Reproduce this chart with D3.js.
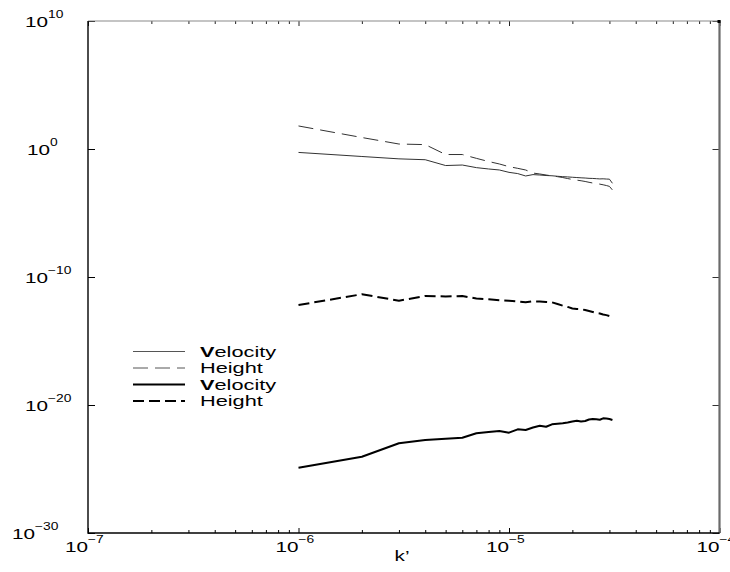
<!DOCTYPE html>
<html>
<head>
<meta charset="utf-8">
<script src="https://cdn.jsdelivr.net/npm/d3@7/dist/d3.min.js"></script>
<style>
  html, body { margin: 0; padding: 0; background: #fff; }
  svg { display: block; }
  text { font-family: "Liberation Sans", Arial, Helvetica, sans-serif; fill: #000; }
</style>
</head>
<body>
<svg id="chart" width="730" height="572"></svg>
<script>
// ---- data ----
const kValues = [1e-6, 2e-6, 3e-6, 4e-6, 5e-6, 6e-6, 7e-6, 8e-6, 9e-6, 1e-5,
  1.1e-5, 1.2e-5, 1.3e-5, 1.4e-5, 1.5e-5, 1.6e-5, 1.7e-5, 1.8e-5, 1.9e-5, 2e-5,
  2.1e-5, 2.2e-5, 2.3e-5, 2.4e-5, 2.5e-5, 2.6e-5, 2.7e-5, 2.8e-5, 2.9e-5, 3e-5, 3.1e-5];

const velocityThin = [5.4e-1, 2.6e-1, 1.7e-1, 1.45e-1, 5.1e-2, 5.6e-2, 3.5e-2, 2.75e-2, 2.3e-2, 1.5e-2,
  1.2e-2, 7.8e-3, 1.0e-2, 9.3e-3, 8.5e-3, 8.1e-3, 7.4e-3, 6.9e-3, 6.6e-3, 6.2e-3,
  5.9e-3, 5.6e-3, 5.4e-3, 5.1e-3, 5.0e-3, 4.8e-3, 4.6e-3, 4.7e-3, 4.5e-3, 4.4e-3, 2.1e-3];

const heightThin = [63, 7.9, 2.45, 2.2, 0.37, 0.37, 0.186, 0.105, 0.0676, 0.0417,
  0.0309, 0.0229, 0.0132, 0.0112, 0.0093, 0.0079, 0.0069, 0.0059, 0.0049, 0.0042,
  0.0037, 0.0033, 0.0029, 0.0025, 0.0022, 0.0020, 0.0018, 0.0016, 0.0014, 0.0012, 0.00063];

const velocityThick = [1.26e-25, 9.1e-25, 1.02e-23, 1.86e-23, 2.3e-23, 2.8e-23, 6.2e-23, 7.8e-23, 9.3e-23, 6.9e-23,
  1.26e-22, 1.12e-22, 1.74e-22, 2.4e-22, 2.0e-22, 3.1e-22, 3.4e-22, 3.7e-22, 4.3e-22, 5.1e-22,
  5.9e-22, 5.1e-22, 5.6e-22, 7.4e-22, 8.1e-22, 7.6e-22, 7.1e-22, 9.1e-22, 8.9e-22, 8.1e-22, 6.8e-22];

const heightThick = [6.5e-13, 4.5e-12, 1.4e-12, 3.3e-12, 3.0e-12, 3.3e-12, 2.1e-12, 1.8e-12, 1.55e-12, 1.4e-12,
  1.23e-12, 1.05e-12, 1.26e-12, 1.23e-12, 1.12e-12, 1.05e-12, 7.8e-13, 5.8e-13, 4.6e-13, 3.5e-13,
  3.2e-13, 3.1e-13, 2.6e-13, 2.2e-13, 1.86e-13, 1.55e-13, 1.4e-13, 1.17e-13, 1.05e-13, 8.9e-14, 6.9e-14];

const xTickExponents = [-7, -6, -5, -4];
const yTickExponents = [10, 0, -10, -20, -30];
const xAxisTitle = "k’";
const legendLabels = ["Velocity", "Height", "Velocity", "Height"];

// ---- layout ----
const svg = d3.select("#chart");
const plot = { left: 88, right: 719.5, top: 21, bottom: 533 };
const x = d3.scaleLog().domain([1e-7, 1e-4]).range([plot.left, plot.right]);
const y = d3.scaleLog().domain([1e-30, 1e10]).range([plot.bottom, plot.top]);
const SX = 1.38; // horizontal stretch of the original typeface

const xMajor = xTickExponents.map(e => Math.pow(10, e));
const yMajor = yTickExponents.map(e => Math.pow(10, e));
const xMinor = [];
xTickExponents.slice(0, -1).forEach(e => { for (let m = 2; m <= 9; m++) xMinor.push(m * Math.pow(10, e)); });

function styleAxis(g, color) {
  g.select(".domain").remove();
  g.selectAll(".tick line").attr("stroke", color).attr("stroke-width", 1);
  g.selectAll(".tick text").remove();
}

// bottom axis ticks
svg.append("g").attr("transform", `translate(0,${plot.bottom})`)
  .call(d3.axisBottom(x).tickValues(xMinor).tickSize(-3).tickFormat(""))
  .call(g => styleAxis(g, "#000"));
svg.append("g").attr("transform", `translate(0,${plot.bottom})`)
  .call(d3.axisBottom(x).tickValues(xMajor).tickSize(-5).tickFormat(""))
  .call(g => styleAxis(g, "#000"));
// top axis ticks
svg.append("g").attr("transform", `translate(0,${plot.top})`)
  .call(d3.axisTop(x).tickValues(xMinor).tickSize(-3).tickFormat(""))
  .call(g => styleAxis(g, "#222"));
svg.append("g").attr("transform", `translate(0,${plot.top})`)
  .call(d3.axisTop(x).tickValues(xMajor).tickSize(-5).tickFormat(""))
  .call(g => styleAxis(g, "#222"));
// left / right ticks
svg.append("g").attr("transform", `translate(${plot.left},0)`)
  .call(d3.axisLeft(y).tickValues(yMajor).tickSize(-7).tickFormat(""))
  .call(g => styleAxis(g, "#000"));
svg.append("g").attr("transform", `translate(${plot.right},0)`)
  .call(d3.axisRight(y).tickValues(yMajor).tickSize(-7).tickFormat(""))
  .call(g => styleAxis(g, "#333"));

// frame
svg.append("line").attr("x1", plot.left).attr("x2", plot.right).attr("y1", plot.top).attr("y2", plot.top)
  .attr("stroke", "#8a8a8a").attr("stroke-width", 1.2);
svg.append("line").attr("x1", plot.right).attr("x2", plot.right).attr("y1", plot.top - 1).attr("y2", plot.bottom)
  .attr("stroke", "#6a6a6a").attr("stroke-width", 2.2);
svg.append("line").attr("x1", plot.left).attr("x2", plot.left).attr("y1", plot.top).attr("y2", plot.bottom + 0.7)
  .attr("stroke", "#000").attr("stroke-width", 1.4);
svg.append("line").attr("x1", plot.left).attr("x2", plot.right).attr("y1", plot.bottom).attr("y2", plot.bottom)
  .attr("stroke", "#000").attr("stroke-width", 1.4);
svg.append("rect").attr("x", plot.right - 2).attr("y", plot.top - 1).attr("width", 3).attr("height", 3).attr("fill", "#000");

// power-of-ten label helper
function powLabel(g, exp) {
  const t = g.append("text").attr("font-size", 15);
  t.append("tspan").text("10");
  const s = exp < 0 ? "\u2212" + Math.abs(exp) : String(exp);
  t.append("tspan").attr("font-size", 10).attr("dy", -9).text(s);
}

// y labels
yTickExponents.forEach((e, i) => {
  const yy = y(Math.pow(10, e));
  let xs = 25;
  if (e === 0) xs = 27;
  if (i === yTickExponents.length - 1) xs = 12;
  const g = svg.append("g").attr("transform", `translate(${xs},${yy + 5.5}) scale(${SX},1)`);
  powLabel(g, e);
});

// x labels
xTickExponents.forEach(e => {
  const xx = x(Math.pow(10, e));
  const g = svg.append("g").attr("transform", `translate(${xx - 23},552) scale(${SX},1)`);
  powLabel(g, e);
});

// x axis title
svg.append("g").attr("transform", `translate(402,561) scale(${SX},1)`)
  .append("text").attr("font-size", 15).attr("text-anchor", "middle").text(xAxisTitle);

// series
const series = [
  { values: velocityThin, stroke: "#333", width: 1, dash: null },
  { values: heightThin, stroke: "#333", width: 1, dash: "15,7" },
  { values: velocityThick, stroke: "#000", width: 2, dash: null },
  { values: heightThick, stroke: "#000", width: 2, dash: "11,5" }
];
const line = d3.line().x(d => x(d[0])).y(d => y(d[1]));
series.forEach(s => {
  svg.append("path")
    .datum(kValues.map((k, i) => [k, s.values[i]]))
    .attr("d", line)
    .attr("fill", "none")
    .attr("stroke", s.stroke)
    .attr("stroke-width", s.width)
    .attr("stroke-linejoin", "round")
    .attr("stroke-dasharray", s.dash);
});

// legend
const legendTop = 351.5, legendStep = 16.5;
series.forEach((s, i) => {
  const ly = legendTop + i * legendStep;
  svg.append("line").attr("x1", 133).attr("x2", 185).attr("y1", ly).attr("y2", ly)
    .attr("stroke", i < 2 ? "#555" : "#000").attr("stroke-width", s.width)
    .attr("stroke-dasharray", s.dash);
  const g = svg.append("g").attr("transform", `translate(200,${ly + 5.3}) scale(${SX + 0.07},1)`);
  const t = g.append("text").attr("font-size", 15);
  const lab = legendLabels[i];
  if (lab[0] === "V") {
    t.append("tspan").attr("font-weight", "bold").text(lab[0]);
    t.append("tspan").text(lab.slice(1));
  } else {
    t.text(lab);
  }
});
</script>
</body>
</html>
